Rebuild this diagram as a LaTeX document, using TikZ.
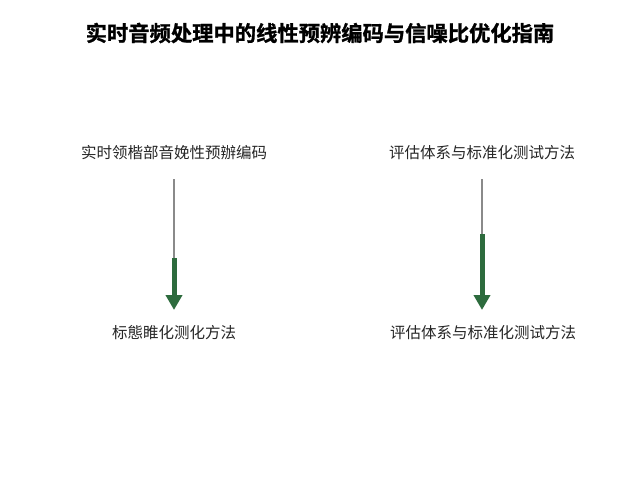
\documentclass[tikz,border=0pt]{standalone}
\usepackage{fontspec}
\newfontfamily\cjk{Noto Sans CJK SC}
\newfontfamily\cjkb[FakeBold=1.2]{Noto Sans CJK SC Bold}
\usetikzlibrary{arrows.meta}
\definecolor{arrowgreen}{HTML}{2D6B3D}
\definecolor{thingray}{HTML}{8A8A8A}
\tikzset{
  lbl/.style={inner sep=0pt, font=\cjk\fontsize{15.5}{18}\selectfont, text=black!85},
  ttl/.style={inner sep=0pt, font=\cjkb\fontsize{21.3}{25}\selectfont, text=black},
  stem/.style={draw=thingray, line width=1.2pt},
  shaft/.style={draw=arrowgreen, line width=5pt, -{Triangle[width=16pt,length=15pt]}, arrowgreen}
}
\begin{document}
\begin{tikzpicture}[x=1pt,y=-1pt]
\useasboundingbox[fill=white] (0,0) rectangle (640,480);
\node[ttl] (title) at (320,33) {实时音频处理中的线性预辨编码与信噪比优化指南};
\node[lbl] (t1) at (174,153) {实时领楷部音娩性预辦编码};
\node[lbl] (t2) at (482,153) {评估体系与标准化测试方法};
\node[lbl] (b1) at (174,333) {标態睢化测化方法};
\node[lbl] (b2) at (483,333) {评估体系与标准化测试方法};
\coordinate (s1) at (174,179);
\coordinate (m1) at (174,258);
\coordinate (e1) at (174,310);
\coordinate (s2) at (482,179);
\coordinate (m2) at (482,234);
\coordinate (e2) at (482,310);
\draw[stem] (s1) -- (m1);
\draw[shaft] (m1) -- (e1);
\draw[stem] (s2) -- (m2);
\draw[shaft] (m2) -- (e2);
\end{tikzpicture}
\end{document}
